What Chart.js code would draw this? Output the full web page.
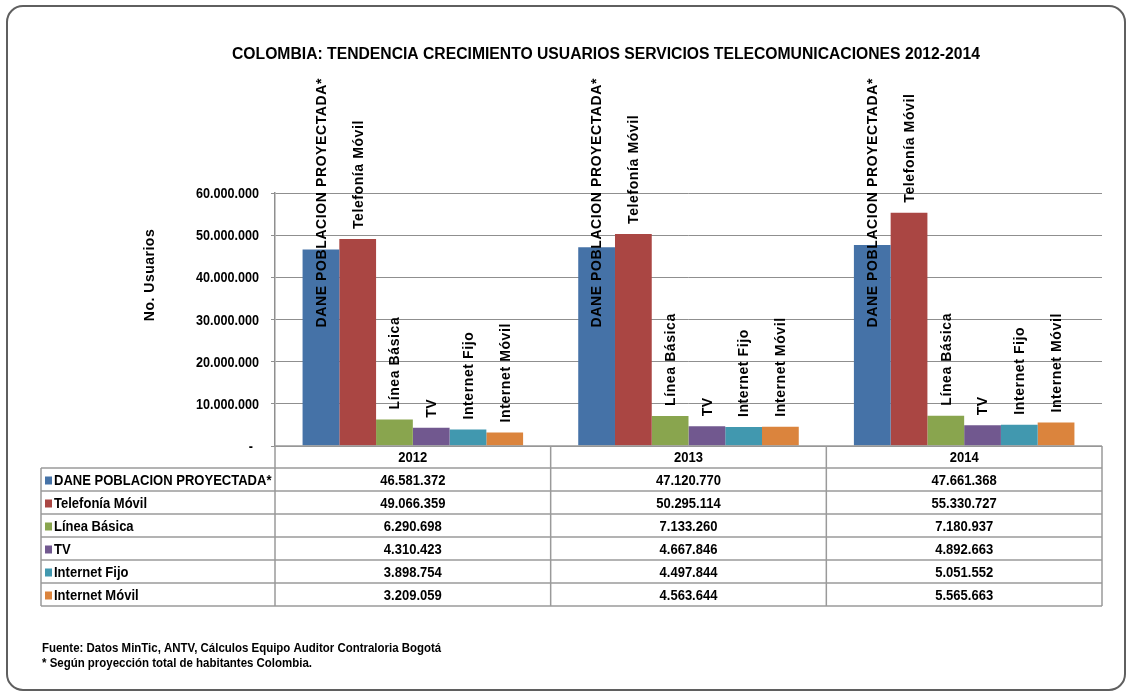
<!DOCTYPE html>
<html>
<head>
<meta charset="utf-8">
<script src="https://cdn.jsdelivr.net/npm/chart.js@4.4.1/dist/chart.umd.min.js"></script>
<style>
body{margin:0;background:#fff}
#c{position:absolute;left:0;top:0}
</style>
</head>
<body>
<canvas id="c" width="1130" height="696"></canvas>
<script>

const years = ["2012","2013","2014"]

const seriesNames = [
"DANE POBLACION PROYECTADA*",
"Telefonía Móvil",
"Línea Básica",
"TV",
"Internet Fijo",
"Internet Móvil"
]

const danePoblacion = [46581372, 47120770, 47661368]
const telefoniaMovil = [49066359, 50295114, 55330727]
const lineaBasica = [6290698, 7133260, 7180937]
const tv = [4310423, 4667846, 4892663]
const internetFijo = [3898754, 4497844, 5051552]
const internetMovil = [3209059, 4563644, 5565663]

const yTicks = [0, 10000000, 20000000, 30000000, 40000000, 50000000, 60000000]

const seriesData = [danePoblacion, telefoniaMovil, lineaBasica, tv, internetFijo, internetMovil]
const colors = ["#4572A7","#AA4643","#89A54E","#71588F","#4198AF","#DB843D"]

const FONT = "'Liberation Sans',Arial,sans-serif"
const NARROW_X = 0.84

function fmt(v){
return String(v).replace(/\B(?=(\d{3})+(?!\d))/g,".")
}

// horizontally squeezed text (no narrow font installed)
function narrowText(ctx,text,x,y,sx){
ctx.save()
ctx.translate(x,y)
ctx.scale(sx,1)
ctx.fillText(text,0,0)
ctx.restore()
}

/* ---------------- FRAME + TEXTS + TABLE ---------------- */

const extras = {
id:"extras",

beforeDraw(chart){
const ctx = chart.ctx
ctx.save()
ctx.fillStyle = "#fff"
ctx.fillRect(0,0,chart.width,chart.height)
ctx.beginPath()
ctx.roundRect(7,6,1118,684,16)
ctx.lineWidth = 2
ctx.strokeStyle = "#5f5f5f"
ctx.stroke()
ctx.restore()
},

afterDraw(chart){
const ctx = chart.ctx
const area = chart.chartArea
const yScale = chart.scales.y
ctx.save()

// title
ctx.fillStyle = "#000"
ctx.font = "bold 16px " + FONT
ctx.textAlign = "center"
ctx.textBaseline = "middle"
const title = "COLOMBIA: TENDENCIA CRECIMIENTO USUARIOS SERVICIOS TELECOMUNICACIONES 2012-2014"
narrowText(ctx, title, 606, 55, 748 / ctx.measureText(title).width)

// y tick labels
ctx.font = "bold 15px " + FONT
ctx.textAlign = "right"
yTicks.forEach(v=>{
const y = yScale.getPixelForValue(v) + 1
if(v===0) narrowText(ctx, "-", 253, y, NARROW_X)
else narrowText(ctx, fmt(v), 259, y, NARROW_X)
})

// y axis title
ctx.save()
ctx.translate(150, 275)
ctx.rotate(-Math.PI/2)
ctx.textAlign = "center"
ctx.font = "bold 14px " + FONT
ctx.letterSpacing = "0.5px"
ctx.fillText("No. Usuarios", 0, 0)
ctx.restore()

// rotated labels above bars
ctx.font = "bold 14px " + FONT
ctx.letterSpacing = "0.6px"
ctx.textAlign = "left"
chart.data.datasets.forEach((ds,di)=>{
const meta = chart.getDatasetMeta(di)
meta.data.forEach(bar=>{
const w = ctx.measureText(ds.label).width
let bottom = bar.y - 10
if(bottom - w < 78) bottom = 78 + w
ctx.save()
ctx.translate(bar.x + 1, bottom)
ctx.rotate(-Math.PI/2)
ctx.fillText(ds.label, 0, 0)
ctx.restore()
})
})
ctx.letterSpacing = "0px"

// data table
const colW = (area.right - area.left) / years.length
const top = area.bottom
const headH = 22
const rowH = 23
const tLeft = 41
const tBottom = top + headH + rowH * seriesNames.length

ctx.strokeStyle = "#9a9a9a"
ctx.lineWidth = 1.5

ctx.beginPath()
ctx.moveTo(area.left, top)
ctx.lineTo(area.right, top)
for(let r=0;r<=seriesNames.length;r++){
const y = top + headH + r*rowH
ctx.moveTo(tLeft, y)
ctx.lineTo(area.right, y)
}
ctx.moveTo(tLeft, top + headH)
ctx.lineTo(tLeft, tBottom)
for(let c=0;c<=years.length;c++){
const x = area.left + c*colW
ctx.moveTo(x, top)
ctx.lineTo(x, tBottom)
}
ctx.stroke()

ctx.fillStyle = "#000"
ctx.font = "bold 15.5px " + FONT
ctx.textAlign = "center"
years.forEach((yr,c)=>{
narrowText(ctx, yr, area.left + c*colW + colW/2, top + headH/2 + 1, NARROW_X)
})

seriesNames.forEach((name,r)=>{
const cy = top + headH + r*rowH + rowH/2 + 1
ctx.fillStyle = colors[r]
ctx.fillRect(tLeft + 4, cy - 4, 7, 8)
ctx.fillStyle = "#000"
ctx.textAlign = "left"
narrowText(ctx, name, tLeft + 13, cy, NARROW_X)
ctx.textAlign = "center"
seriesData[r].forEach((v,c)=>{
narrowText(ctx, fmt(v), area.left + c*colW + colW/2, cy, NARROW_X)
})
})

// footnotes
ctx.textAlign = "left"
ctx.font = "bold 12px " + FONT
narrowText(ctx, "Fuente: Datos MinTic, ANTV, Cálculos Equipo Auditor Contraloria Bogotá", 42, 649, 0.955)
narrowText(ctx, "* Según proyección total de habitantes Colombia.", 42, 664, 0.955)

ctx.restore()
}
}

new Chart(document.getElementById("c"),{

type:"bar",

data:{
labels:years,
datasets:seriesNames.map((name,i)=>({
label:name,
data:seriesData[i],
backgroundColor:colors[i],
borderWidth:0,
categoryPercentage:0.8,
barPercentage:1
}))
},

options:{
responsive:false,
animation:false,
devicePixelRatio:1,
layout:{padding:{left:0,right:28,top:193,bottom:250}},
plugins:{
legend:{display:false},
title:{display:false},
tooltip:{enabled:false}
},
scales:{
x:{display:false},
y:{
min:0,
max:60000000,
afterFit:(scale)=>{scale.width = 275},
afterBuildTicks:(scale)=>{scale.ticks = yTicks.map(v=>({value:v}))},
grid:{color:"#8f8f8f",lineWidth:1,tickLength:4,drawTicks:true},
border:{color:"#8f8f8f",width:1.5},
ticks:{display:false}
}
}
},

plugins:[extras]

})

</script>
</body>
</html>
